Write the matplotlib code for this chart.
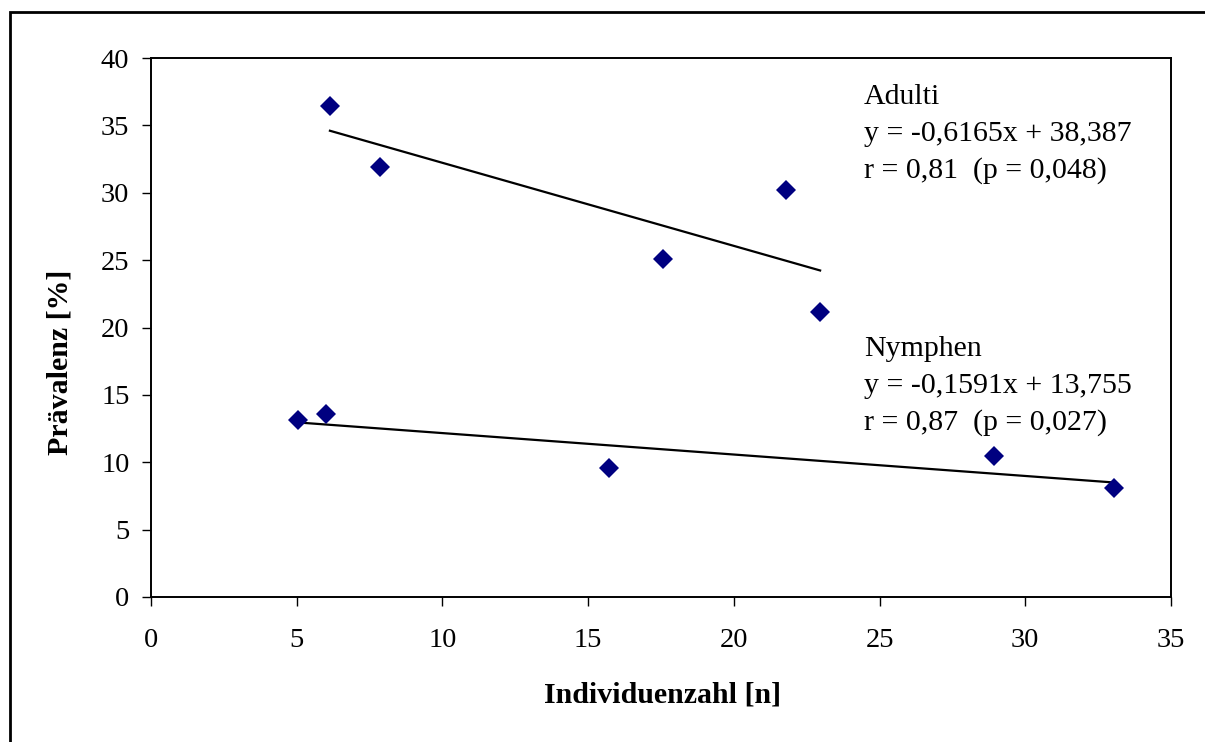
import matplotlib
matplotlib.use("Agg")
import matplotlib.pyplot as plt
from matplotlib.patches import Rectangle
import numpy as np

plt.rcParams['font.family'] = ['Liberation Serif', 'DejaVu Serif']

# Data
adulti_x = [6.14, 7.86, 17.57, 21.79, 22.96]
adulti_y = [36.44, 31.91, 25.08, 30.20, 21.15]
nymphen_x = [5.04, 6.0, 15.72, 28.93, 33.05]
nymphen_y = [13.14, 13.58, 9.57, 10.46, 8.09]

adulti_fit = (-0.6165, 38.387)
nymphen_fit = (-0.1591, 13.755)

adulti_text = ["Adulti", "y = -0,6165x + 38,387", "r = 0,81  (p = 0,048)"]
nymphen_text = ["Nymphen", "y = -0,1591x + 13,755", "r = 0,87  (p = 0,027)"]

xticks = [0, 5, 10, 15, 20, 25, 30, 35]
yticks = [0, 5, 10, 15, 20, 25, 30, 35, 40]

W, H = 1205, 742
fig = plt.figure(figsize=(W / 100, H / 100), dpi=100)
fig.patch.set_facecolor('white')

# outer frame (cropped on right and bottom)
frame = Rectangle((10 / W, -0.05), 1.1, (H - 12) / H + 0.05, transform=fig.transFigure,
                  fill=False, edgecolor='black', linewidth=2.0, clip_on=False)
fig.patches.append(frame)

L, R, T, B = 151, 1171, 58, 597
ax = fig.add_axes([L / W, (H - B) / H, (R - L) / W, (B - T) / H])

navy = '#000080'
for xs, ys, fit in [(adulti_x, adulti_y, adulti_fit), (nymphen_x, nymphen_y, nymphen_fit)]:
    xx = np.array([min(xs), max(xs)])
    ax.plot(xx, fit[0] * xx + fit[1], color='black', linewidth=1.6, zorder=2)
    ax.plot(xs, ys, linestyle='none', marker='D', markersize=10.5, color=navy,
            markeredgewidth=0, zorder=3)

ax.set_xlim(0, 35)
ax.set_ylim(0, 40)
ax.set_xticks(xticks)
ax.set_yticks(yticks)
ax.set_xticklabels([str(t) for t in xticks])
ax.set_yticklabels([str(t) for t in yticks])
ax.tick_params(axis='both', direction='out', length=6.5, width=1.0, labelsize=20.5, colors='black')
ax.tick_params(axis='y', pad=9)
ax.tick_params(axis='x', pad=16)
for s in ax.spines.values():
    s.set_linewidth(1.4)
    s.set_color('black')

def px2data(px, py):
    x = (px - L) / (R - L) * 35
    y = (B - py) / (B - T) * 40
    return x, y

for lines, baselines in [(adulti_text, [104, 141, 178]), (nymphen_text, [356, 393, 430])]:
    for line, by in zip(lines, baselines):
        x, y = px2data(864, by)
        ax.text(x, y, line, fontsize=21.5, ha='left', va='baseline', color='black')

fig.text(663 / W, 1 - 695 / H, "Individuenzahl [n]", fontsize=21.5, fontweight='bold',
         ha='center', va='center')
fig.text(60 / W, 1 - 362 / H, "Prävalenz [%]", fontsize=21.5, fontweight='bold',
         ha='center', va='center', rotation=90)

fig.savefig('out.png', dpi=100)
